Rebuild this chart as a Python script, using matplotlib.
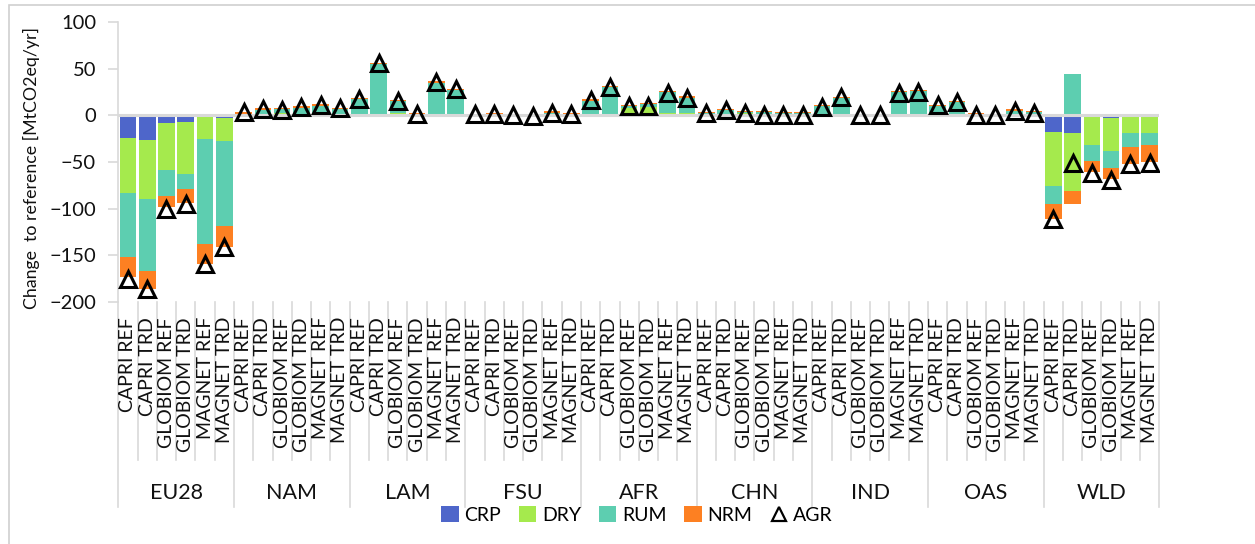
import numpy as np
import matplotlib.pyplot as plt
from matplotlib.patches import Patch, Rectangle
from matplotlib.lines import Line2D
import matplotlib.transforms as mtransforms

plt.rcParams['font.family'] = ['Lato', 'DejaVu Sans']

regions = ['EU28', 'NAM', 'LAM', 'FSU', 'AFR', 'CHN', 'IND', 'OAS', 'WLD']
scenarios = ['CAPRI REF', 'CAPRI TRD', 'GLOBIOM REF', 'GLOBIOM TRD', 'MAGNET REF', 'MAGNET TRD']

# MtCO2eq/yr, 6 scenarios per region
CRP = [-24, -26, -8, -7, -1, -2.5,
       0, 0, 1, 0, 0, 0,
       0, 0, 1, 0, 0, 0,
       0, 0, 0, 0, 0, 0,
       0, 0, 0, 0, 1, 1,
       0, 0, 0, 0, 0, 0,
       0, 0, 0, 0, 0, 0,
       0, 0, 0, 0, 0, 0,
       -18, -19, -1, -2.5, 0, 0]
DRY = [-59, -64, -51, -56, -24, -25,
       0, 0, 1.5, 1, 1, 0.5,
       0.5, 0, 2, 0.5, 0, 0,
       0, 0, 0, -1, 0, 0,
       1, 1, 8, 9, 2, 2,
       0, 0, 3, 2, 1, 1,
       0, 0, 0, 0, 0, 0,
       0, 0, 0, 0, 0, 0,
       -58, -62, -31, -36, -19, -19]
RUM = [-69, -77, -27, -16.5, -113, -91,
       1, 6, 4, 7, 9, 6,
       17, 55, 13, 1.5, 35, 27,
       1, 2, 0.5, 0, 3, 2,
       15, 29, 2, 3, 22, 16,
       3, 6, 1, 2, 2, 2,
       10, 19, 1, 1, 25, 26,
       10, 14, 1.5, 1, 5, 4,
       -19, 44, -16.5, -18, -15, -12.5]
NRM = [-22, -19, -12, -15, -22, -23,
       2.5, 1.5, 1.5, 2, 2, 2,
       1, 1, 1, 1, 1.5, 1.5,
       1, 1, 1, 1.5, 1.5, 1,
       1.5, 1.5, 1.5, 1.5, 1, 1.5,
       0.5, 0.5, 1, 1, 1, 0.5,
       1, 1, 0.5, 0.5, 1, 1.5,
       1.5, 1, 1, 0.5, 1.5, 1,
       -16, -13.6, -12, -12, -18, -19]
AGR = [-176, -186, -100, -95, -160, -141,
       3.5, 7, 6, 9, 11, 8,
       18, 56, 16, 2, 36, 28,
       2, 2, 0, -1, 3, 2,
       17, 30, 10, 10, 24, 19,
       3, 6, 3, 1, 1, 1,
       9, 20, 0, 0, 24, 25,
       11, 14, 1, 1, 4.5, 3,
       -111, -51, -62, -69, -52, -51]

series = {'CRP': CRP, 'DRY': DRY, 'RUM': RUM, 'NRM': NRM}
colors = {'CRP': '#4E66CA', 'DRY': '#A5EA4D', 'RUM': '#5DCEB0', 'NRM': '#FD8022'}
txt = '#111111'

W, H = 1255, 544
fig = plt.figure(figsize=(W / 100, H / 100), dpi=100)
# chart border (left + top visible)
fig.patches.append(Rectangle((9 / W, -0.1), 1.2, 1 - 5 / H + 0.1, transform=fig.transFigure,
                             fill=False, edgecolor='#d0d0d0', lw=1.2))
ax = fig.add_axes([118.3 / W, 1 - 301.7 / H, (1159.3 - 118.3) / W, (301.7 - 22.3) / H])

n = len(regions) * len(scenarios)
x = np.arange(n)
pos_bot = np.zeros(n)
neg_bot = np.zeros(n)
for name, vals in series.items():
    v = np.array(vals, dtype=float)
    bottom = np.where(v >= 0, pos_bot, neg_bot)
    ax.bar(x, v, width=0.86, bottom=bottom, color=colors[name], zorder=2)
    pos_bot += np.where(v >= 0, v, 0)
    neg_bot += np.where(v < 0, v, 0)

ax.axhline(0, color='#d9d9d9', lw=2.2, zorder=3)
ax.plot(x, AGR, linestyle='none', marker='^', markersize=11, markerfacecolor='none',
        markeredgecolor='black', markeredgewidth=2.2, zorder=4)

ax.set_xlim(-0.5, n - 0.5)
ax.set_ylim(-200, 100)
ax.set_yticks(np.arange(-200, 101, 50))
ax.tick_params(axis='y', length=7, color='#d9d9d9', width=1.2, labelsize=14.5, pad=9, labelcolor=txt)
ax.set_xticks([])
for s in ['top', 'right', 'bottom']:
    ax.spines[s].set_visible(False)
ax.spines['left'].set_color('#d9d9d9')
ax.spines['left'].set_linewidth(1.2)
ax.set_ylabel('Change  to reference [MtCO2eq/yr]', fontsize=12.8, color=txt)
ax.yaxis.set_label_coords(-0.075, 0.48)

trans = mtransforms.blended_transform_factory(ax.transData, ax.transAxes)
for i in range(n):
    ax.text(x[i], -0.055, scenarios[i % len(scenarios)], rotation=90, ha='center', va='top',
            fontsize=14, transform=trans, color=txt)
for b in range(n + 1):
    xb = b - 0.5
    if b % len(scenarios) == 0:
        y_end = -0.735
    else:
        y_end = -0.567
    ax.plot([xb, xb], [0, y_end], color='#d9d9d9', lw=1.2, transform=trans, clip_on=False)
for r, reg in enumerate(regions):
    ax.text(r * len(scenarios) + 2.5, -0.683, reg, ha='center', va='center', fontsize=15.5,
            transform=trans, color=txt)

handles = [Patch(facecolor=colors[k], label=k) for k in series]
handles.append(Line2D([], [], linestyle='none', marker='^', markersize=10, markerfacecolor='none',
                      markeredgecolor='black', markeredgewidth=1.6, label='AGR'))
fig.legend(handles=handles, loc='center', bbox_to_anchor=(637 / W, 1 - 515 / H), ncol=5,
           frameon=False, fontsize=14, handlelength=0.9, handleheight=0.9, handletextpad=0.3,
           columnspacing=0.9, borderpad=0)

fig.savefig('out.png', dpi=100)
